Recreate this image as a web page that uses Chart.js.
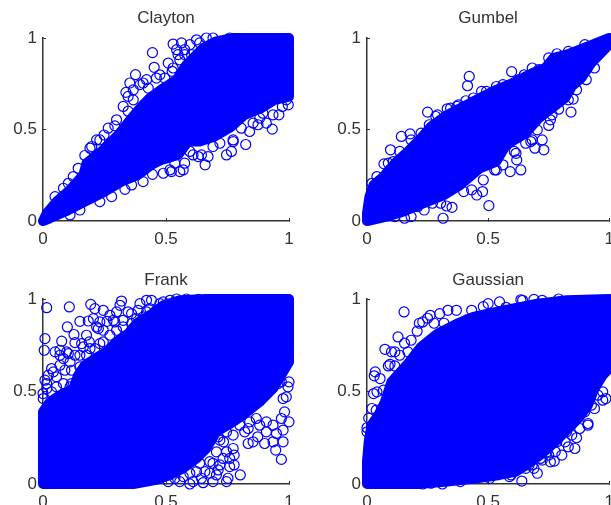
<!DOCTYPE html>
<html>
<head>
<meta charset="utf-8">
<title>Copulas</title>
<script src="https://cdn.jsdelivr.net/npm/chart.js@4/dist/chart.umd.min.js"></script>
<style>
  html, body { margin: 0; padding: 0; width: 611px; height: 505px; overflow: hidden; background: #fff; }
  canvas { position: absolute; }
</style>
</head>
<body>
<canvas id="clayton" width="305" height="250" style="left:0;top:0"></canvas>
<canvas id="gumbel" width="320" height="250" style="left:305px;top:0"></canvas>
<canvas id="frank" width="305" height="250" style="left:0;top:255px"></canvas>
<canvas id="gaussian" width="320" height="250" style="left:305px;top:255px"></canvas>
<script>
var tickValues = [0, 0.5, 1];

// outline of the solid part of each cloud as [x, y]
var claytonBody = [[0,0],[.015,.042],[.055,.106],[.11,.17],[.164,.252],[.177,.316],[.245,.389],[.306,.471],[.36,.562],[.4,.626],[.434,.672],[.489,.726],[.543,.772],[.583,.854],[.651,.945],[.705,.982],[.773,1],[1,1],[1,.68],[.942,.662],[.888,.617],[.82,.58],[.766,.516],[.698,.462],[.637,.434],[.59,.434],[.549,.361],[.482,.334],[.441,.307],[.387,.252],[.319,.215],[.238,.151],[.157,.097],[.089,.051],[.028,.015]];
var gumbelBody = [[0,0],[0,.042],[.01,.133],[.027,.197],[.068,.243],[.115,.316],[.169,.38],[.223,.453],[.264,.516],[.331,.58],[.399,.626],[.466,.672],[.534,.717],[.601,.754],[.682,.808],[.736,.836],[.77,.891],[.824,.909],[.878,.936],[1,1],[1,.964],[.926,.863],[.885,.781],[.845,.735],[.818,.672],[.764,.617],[.709,.562],[.655,.48],[.574,.416],[.534,.325],[.466,.288],[.385,.197],[.318,.142],[.25,.106],[.149,.051],[.081,.024]];
var frankBody = [[0,0],[0,.39],[.028,.444],[.069,.48],[.123,.516],[.143,.588],[.17,.642],[.211,.678],[.258,.714],[.299,.768],[.346,.813],[.38,.867],[.434,.912],[.489,.966],[.556,.993],[.664,1],[1,1],[1,.66],[.976,.606],[.935,.516],[.881,.444],[.813,.372],[.773,.336],[.705,.282],[.664,.192],[.624,.138],[.57,.085],[.516,.049],[.461,.022],[.367,0]];
var gaussianBody = [[0,0],[0,.121],[.007,.228],[.018,.318],[.047,.372],[.074,.444],[.101,.552],[.169,.651],[.223,.741],[.291,.813],[.372,.867],[.439,.903],[.5,.921],[.595,.947],[.703,.975],[.824,.993],[1,1],[1,.624],[.973,.588],[.939,.516],[.912,.426],[.872,.354],[.818,.282],[.777,.228],[.723,.165],[.669,.112],[.615,.067],[.547,.049],[.453,.031],[.331,.013],[.209,0]];

// single circles around the edge of each cloud
var claytonPoints = [[.445,.92],[.452,.84],[.376,.8],[.353,.754],[.337,.703],[.367,.662],[.346,.6],[.292,.52],[.248,.47],[.218,.443],[.198,.407],[.17,.358],[.103,.206],[.529,.967],[.563,.973],[.624,.99],[.549,.909],[.576,.936],[.525,.818],[.421,.772],[.461,.781],[.407,.754],
	[.394,.745],[.428,.726],[.475,.799],[.495,.781],[.367,.717],[.346,.681],[.326,.626],[.299,.553],[.265,.507],[.231,.443],[.191,.398],[.143,.288],[.123,.243],[.083,.179],[.049,.133],[.556,.881],[.543,.936],[.597,.964],[.637,.973],[.664,1],[.691,1],[.759,1],[.529,.836],[.509,.863],[.576,.909],[.604,.909],
	[.824,.418],[.932,.502],[.84,.489],[.959,.58],[.935,.58],[.997,.635],[.908,.535],[.874,.526],[.773,.434],[.746,.361],[.766,.38],[.659,.307],[.631,.352],[.671,.352],[.57,.279],[.522,.27],[.445,.255],[.597,.38],[.536,.316],[.989,.662],[.894,.589],
	[.973,.626],[.881,.562],[.854,.535],[.806,.507],[.773,.443],[.719,.425],[.691,.407],[.644,.361],[.61,.361],[.576,.316],[.556,.27],[.516,.279],[.489,.261],[.407,.215],[.36,.197],[.333,.173],[.279,.133],[.231,.106],[.15,.06],[.11,.033]];
var gumbelPoints = [[.422,.79],[.415,.739],[.597,.816],[.473,.708],[.25,.595],[.408,.657],[.331,.613],[.378,.635],[.178,.476],[.142,.462],[.097,.389],[.07,.312],[.02,.206],[.257,.526],[.291,.58],[.108,.325],[.534,.735],[.682,.836],[.784,.914],
	[.041,.243],[.088,.316],[.135,.38],[.182,.443],[.223,.48],[.284,.571],[.345,.617],[.372,.626],[.439,.672],[.493,.708],[.561,.745],[.628,.772],[.649,.799],[.709,.827],[.75,.891],[.831,.927],[.899,.964],
	[.842,.595],[.851,.666],[.75,.522],[.791,.611],[.73,.389],[.723,.443],[.693,.398],[.676,.434],[.703,.498],[.635,.279],[.618,.334],[.591,.27],[.608,.38],[.503,.084],[.477,.161],[.453,.142],[.351,.075],[.328,.082],[.314,.015],[.27,.097],[.182,.024],[.534,.279],
	[.939,.836],[.905,.772],[.865,.717],[.831,.662],[.764,.58],[.757,.553],[.682,.443],[.655,.425],[.615,.37],[.561,.307],[.527,.279],[.48,.224],[.432,.17],[.399,.161],[.304,.097],[.236,.06],[.155,.015],[.209,.078],[.115,.024]];
var frankPoints = [[.015,.953],[.107,.957],[.008,.786],[.005,.723],[.194,.971],[.245,.939],[.211,.948],[.319,.989],[.299,.93],[.394,.975],[.441,.993],[.099,.849],[.15,.879],[.184,.881],[.26,.879],[.126,.808],[.076,.772],[.13,.764],[.188,.768],[.069,.723],[.083,.678],[.15,.696],[.191,.732],[.225,.84],[.292,.876],[.36,.921],[.035,.624],[.008,.561],[0,.489],[.015,.516],[.177,.804],[.231,.759],[.326,.849],[.421,.93],[.543,1],[.489,.984],[.055,.579],[.116,.543],
	[.049,.714],[.069,.696],[.096,.714],[.13,.696],[.11,.66],[.069,.642],[.042,.606],[.022,.588],[.015,.543],[.035,.498],[.055,.525],[.001,.462],[.089,.615],[.15,.633],[.177,.696],[.211,.732],[.164,.741],[.245,.768],[.272,.804],[.218,.849],[.245,.831],[.299,.831],[.286,.885],[.326,.885],[.36,.867],[.346,.93],[.38,.894],[.407,.903],[.434,.948],[.461,.939],[.421,.993],[.387,.939],[.475,.975],[.516,.993],[.583,1],[.631,.998],[.604,.975],[.529,.966],[.313,.966],[.272,.912],[.205,.894],[.231,.876],[.157,.759],[.103,.705],[.116,.615],[.083,.543],[.11,.525],
	[.969,.133],[.946,.183],[.901,.219],[.802,.049],[.777,.156],[.752,.031],[.759,.094],[.712,.076],[.651,.007],[.597,0],[.678,.058],[.57,.04],[.509,.013],[1,.336],[.982,.39],[.949,.273],[.976,.291],[.834,.3],[.834,.219],[.873,.255],[.908,.282],[.712,.255],[.734,.228],[.746,.174],[.8,.318],[.759,.138],[1,.552],[.969,.552],[.989,.471],[.867,.354],[.678,.121],[.624,.067],[.746,.013],
	[.996,.525],[.976,.462],[.955,.543],[.969,.354],[.935,.318],[.908,.336],[.881,.318],[.84,.336],[.82,.282],[.854,.228],[.773,.264],[.746,.282],[.719,.237],[.773,.192],[.705,.174],[.732,.138],[.691,.112],[.777,.103],[.658,.067],[.644,.031],[.61,.013],[.556,.013],[.719,.103],[.705,.049],[.637,.112],[.597,.058],[.536,.031],[.691,.013],[.976,.228],[.935,.228]];
var gaussianPoints = [[.153,.93],[.128,.795],[.074,.728],[.101,.714],[.095,.647],[.034,.606],[.03,.585],[.027,.489],[0,.304],[.038,.399],[.23,.876],[.261,.912],[.3,.921],[.334,.939],[.369,.939],[.207,.826],[.5,.975],[.547,.984],[.635,.996],[.432,.939],[.689,.998],
	[.25,.896],[.216,.869],[.277,.869],[.318,.869],[.155,.761],[.182,.777],[.115,.714],[.135,.696],[.169,.714],[.088,.638],[.115,.638],[.054,.57],[.041,.498],[.068,.507],[.02,.408],[.007,.356],[0,.282],[.385,.869],[.412,.887],[.466,.896],[.48,.959],[.574,.955],[.642,.993],[.723,.993],[.791,1],
	[.639,.016],[.858,.192],[.773,.124],[.703,.058],[.723,.129],[.804,.156],[.588,.04],[.973,.453],[.939,.408],[.912,.327],[.865,.25],[.824,.282],[.682,.147],[.669,.103],[.23,0],[.311,0],[.439,.031],[.743,.174],
	[.973,.498],[.953,.48],[.986,.462],[.926,.426],[.899,.39],[.912,.318],[.878,.3],[.845,.264],[.818,.228],[.784,.228],[.75,.156],[.757,.12],[.716,.138],[.682,.103],[.655,.085],[.689,.085],[.595,.049],[.507,.031],[.426,.031],[.385,.013],[.264,.004],[.23,.013],[.777,.174],[.831,.201]];

var fontFamily = '"Liberation Sans", Arial, sans-serif';
var inkColor = '#333333';
var blue = '#0000ff';

function toXY(list) {
	return list.map(function (p) { return { x: p[0], y: p[1] }; });
}

function axis(size, fit) {
	return {
		type: 'linear',
		min: 0,
		max: 1,
		afterBuildTicks: function (s) { s.ticks = tickValues.map(function (v) { return { value: v }; }); },
		afterFit: function (s) { s[fit] = size; },
		grid: { drawOnChartArea: false, color: inkColor, tickLength: -3, lineWidth: 1 },
		border: { color: inkColor, width: 1.5 },
		ticks: {
			color: inkColor,
			font: { family: fontFamily, size: 17 },
			maxRotation: 0,
			autoSkip: false,
			callback: function (v) { return String(v); }
		}
	};
}

function drawPanel(id, name, body, points, left, right, titleTop, titleBottom, below) {
	var x = axis(below, 'height');
	x.ticks.padding = 11;
	var y = axis(left, 'width');
	y.ticks.padding = 9;
	new Chart(document.getElementById(id), {
		type: 'scatter',
		data: {
			datasets: [{
				data: toXY(body.concat([body[0]])),
				showLine: true,
				fill: 'shape',
				tension: 0,
				backgroundColor: blue,
				borderColor: blue,
				borderWidth: 10,
				borderJoinStyle: 'round',
				borderCapStyle: 'round',
				pointRadius: 0,
				clip: false
			}, {
				data: toXY(points),
				pointStyle: 'circle',
				pointRadius: 5,
				pointBorderWidth: 1.2,
				pointBorderColor: blue,
				pointBackgroundColor: 'rgba(0,0,0,0)',
				clip: false
			}]
		},
		options: {
			responsive: false,
			animation: false,
			layout: { padding: { left: 0, right: right, top: 0, bottom: 0 } },
			scales: { x: x, y: y },
			plugins: {
				legend: { display: false },
				tooltip: { enabled: false },
				title: {
					display: true,
					fullSize: false,
					text: name,
					color: inkColor,
					font: { family: fontFamily, size: 17, weight: 'normal' },
					padding: { top: titleTop, bottom: titleBottom }
				}
			}
		}
	});
}

drawPanel('clayton', 'Clayton', claytonBody, claytonPoints, 43, 16, 7.8, 9.8, 29);
drawPanel('gumbel', 'Gumbel', gumbelBody, gumbelPoints, 62, 12, 7.8, 9.8, 29);
drawPanel('frank', 'Frank', frankBody, frankPoints, 43, 16, 14.8, 8.8, 21);
drawPanel('gaussian', 'Gaussian', gaussianBody, gaussianPoints, 62, 12, 14.8, 8.8, 21);
</script>
</body>
</html>
